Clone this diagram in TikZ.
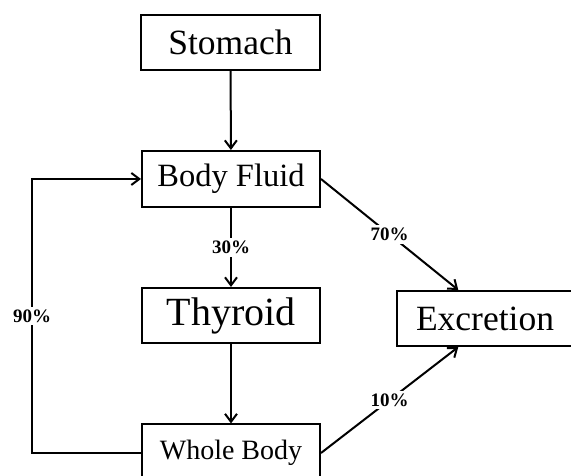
\documentclass[tikz,border=0pt]{standalone}
\usepackage{fontspec}
\setmainfont{Liberation Serif}
\usepackage{tikz}
\usetikzlibrary{arrows.meta,calc}
\definecolor{black}{rgb}{0,0,0}

\begin{document}
\begin{tikzpicture}[x=1pt,y=1pt]
    \def\dx{1pt}
    \def\dy{1pt}
    \newcounter{i}
    \tikzstyle{organ}=[draw=black, line width=2pt, inner sep=0pt, minimum height=55pt]
    \tikzstyle{rate}=[fill=white, inner sep=3pt, font=\bfseries\fontsize{19}{19}\selectfont]

    \useasboundingbox (0,0) rectangle (571,476);

    \stepcounter{i}\node[organ, minimum width=179pt, font=\fontsize{35.5}{36}\selectfont]  (\arabic{i}) at (230.5*\dx,433.5*\dy) {Stomach};
    \stepcounter{i}\node[organ, minimum width=178pt, minimum height=56pt, font=\fontsize{32.5}{33}\selectfont]  (\arabic{i}) at (231*\dx,297*\dy) {Body Fluid};
    \stepcounter{i}\node[organ, minimum width=178pt, font=\fontsize{40}{40}\selectfont]  (\arabic{i}) at (231*\dx,160.5*\dy) {Thyroid};
    \stepcounter{i}\node[organ, minimum width=176pt, font=\fontsize{35.5}{36}\selectfont]  (\arabic{i}) at (485*\dx,157.5*\dy) {Excretion};
    \stepcounter{i}\node[organ, minimum width=178pt, minimum height=57pt, font=\fontsize{28}{28}\selectfont]  (\arabic{i}) at (231*\dx,23*\dy) {Whole Body};

    \coordinate (loop) at (32*\dx,0);
    \coordinate (in) at ($(4.south west)!0.35!(4.south east)$);
    \coordinate (out) at ($(4.north west)!0.35!(4.north east)$);

    \tikzstyle{flow} = [-{Straight Barb[length=8pt,width=12pt]}, draw=black, line width=2pt]

          \draw [flow] (1) -- (2);
          \draw [flow] (2) -- node[rate] {30\%} (3);
          \draw [flow] (3) -- (5);

          \draw [flow] (2.east) -- node[rate] {70\%} (out);
          \draw [flow] (5.east) -- node[rate] {10\%} (in);

          \draw [flow] (5.west) -- (5.west -| loop) |- node[rate, pos=0.25] {90\%} (2.west);
\end{tikzpicture}
\end{document}
